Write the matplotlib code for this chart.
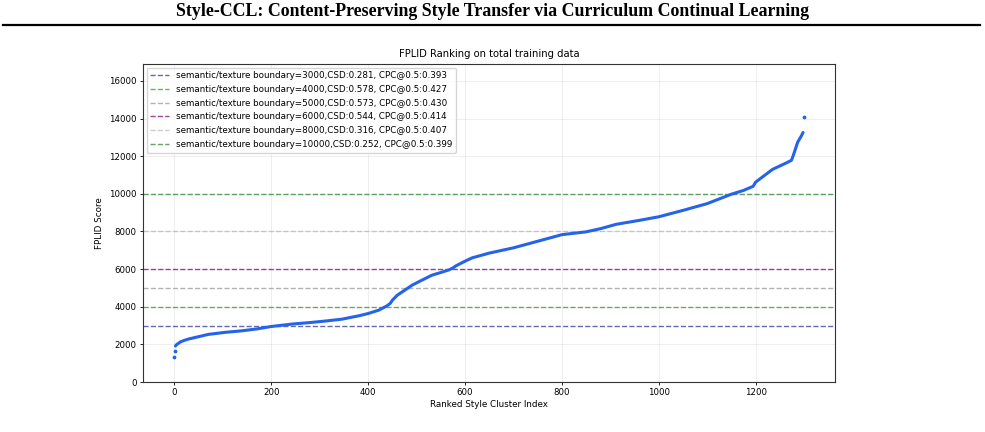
import matplotlib.pyplot as plt
from matplotlib.lines import Line2D

# ranked cluster index and FPLID score
rank = [0, 1, 2, 3, 5, 8, 12, 20, 30, 45, 70, 105, 139, 170, 200, 243, 280, 312,
        346, 381, 400, 422, 439, 446, 450, 455, 460, 475, 491, 510, 532, 550, 567,
        575, 581, 600, 615, 650, 700, 750, 800, 850, 880, 912, 960, 1000, 1050,
        1100, 1150, 1175, 1195, 1200, 1235, 1260, 1274, 1278, 1287, 1295, 1298, 1299]
score = [1340, 1660, 1910, 1950, 2000, 2050, 2130, 2210, 2290, 2380, 2530, 2640,
         2720, 2820, 2950, 3080, 3160, 3240, 3340, 3520, 3640, 3820, 4050, 4190,
         4350, 4480, 4610, 4870, 5150, 5400, 5680, 5820, 5960, 6060, 6170, 6420,
         6600, 6850, 7130, 7480, 7830, 7980, 8150, 8380, 8590, 8780, 9120, 9480,
         9980, 10180, 10400, 10620, 11300, 11600, 11780, 12050, 12750, 13100, 13260,
         14100]

boundaries = [3000, 4000, 5000, 6000, 8000, 10000]
csd = ["0.281", "0.578", "0.573", "0.544", "0.316", "0.252"]
cpc = ["0.393", "0.427", "0.430", "0.414", "0.407", "0.399"]
line_colors = ["darkblue", "green", "gray", "purple", "darkgray", "darkgreen"]
line_alpha = [0.6, 0.6, 0.6, 0.75, 0.6, 0.6]

fig = plt.figure(figsize=(9.85, 4.32), dpi=100)

# paper page header
fig.text(0.5, 1 - 12 / 432, "Style-CCL: Content-Preserving Style Transfer via Curriculum Continual Learning",
         ha="center", va="center", fontsize=12.9, fontweight="bold", family="Liberation Serif")
fig.add_artist(Line2D([0.003, 0.995], [1 - 25 / 432] * 2, color="black", lw=1.6))

ax = fig.add_axes([143 / 985, 50 / 432, 692 / 985, 318 / 432])

for b, c, p, col, a in zip(boundaries, csd, cpc, line_colors, line_alpha):
    ax.axhline(b, color=col, linestyle="--", alpha=a, lw=1.0,
               label=f"semantic/texture boundary={b},CSD:{c}, CPC@0.5:{p}")

blue = "#2563eb"
ax.plot(rank[2:-1], score[2:-1], color=blue, lw=2.2, solid_capstyle="round", zorder=3)
ax.scatter(rank[:2] + rank[-1:], score[:2] + score[-1:], color=blue, s=3, zorder=3)

ax.set_xlim(-65, 1364)
ax.set_ylim(0, 16900)
ax.set_xticks([0, 200, 400, 600, 800, 1000, 1200])
ax.set_yticks(range(0, 16001, 2000))
ax.grid(True, alpha=0.3, lw=0.5)
ax.tick_params(labelsize=6.2, length=2.5, width=0.6, pad=2)
for s in ax.spines.values():
    s.set_linewidth(0.8)
    s.set_color("#333333")

ax.set_title("FPLID Ranking on total training data", fontsize=7.2, pad=5)
ax.set_xlabel("Ranked Style Cluster Index", fontsize=6.3, labelpad=2)
ax.set_ylabel("FPLID Score", fontsize=6.3, labelpad=4)
ax.legend(loc="upper left", fontsize=6.3, labelspacing=0.55, handlelength=2.2,
          borderaxespad=0.4, framealpha=0.8)

fig.savefig("out.png", dpi=100)
